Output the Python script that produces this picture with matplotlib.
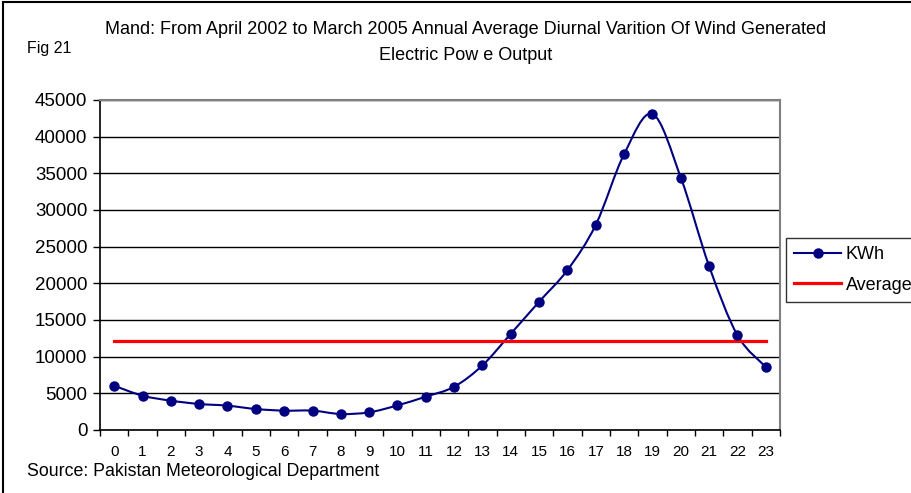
import matplotlib
matplotlib.use('Agg')
import matplotlib.pyplot as plt
import numpy as np
from matplotlib.path import Path
from matplotlib.patches import PathPatch, Rectangle
from matplotlib.lines import Line2D

plt.rcParams['font.family'] = ['Liberation Sans', 'DejaVu Sans']

hours = list(range(24))
kwh = [6040, 4680, 4000, 3550, 3320, 2860, 2640, 2640, 2180, 2410, 3360, 4550,
       5900, 8820, 13130, 17500, 21820, 28000, 37640, 43090, 34410, 22320, 12910, 8590]
average = [12200] * 24

navy = '#000080'

def smooth_path(xs, ys):
    # excel-like smoothed line : bezier segments through the points
    n = len(xs)
    verts = [(xs[0], ys[0])]
    codes = [Path.MOVETO]
    for i in range(n - 1):
        x0, y0 = xs[max(i - 1, 0)], ys[max(i - 1, 0)]
        x1, y1 = xs[i], ys[i]
        x2, y2 = xs[i + 1], ys[i + 1]
        x3, y3 = xs[min(i + 2, n - 1)], ys[min(i + 2, n - 1)]
        c1 = (x1 + (x2 - x0) / 6, y1 + (y2 - y0) / 6)
        c2 = (x2 - (x3 - x1) / 6, y2 - (y3 - y1) / 6)
        verts += [c1, c2, (x2, y2)]
        codes += [Path.CURVE4] * 3
    return Path(verts, codes)

fig = plt.figure(figsize=(9.12, 4.93), dpi=100)
ax = fig.add_axes([100/912, 63/493, 680/912, 330/493])

ax.add_patch(PathPatch(smooth_path(hours, kwh), facecolor='none', edgecolor=navy, lw=1.5, zorder=3))
ax.plot(hours, kwh, 'o', color=navy, markersize=6.5, linestyle='none', zorder=4)
ax.plot(hours, average, '-', color='#ff0000', lw=2.3, zorder=3)

ax.set_xlim(-0.5, 23.5)
ax.set_ylim(0, 45000)
ax.set_yticks(range(0, 45001, 5000))
ax.set_xticks(hours)
ax.set_xticks(np.arange(-0.5, 24, 1), minor=True)
ax.tick_params(axis='x', which='major', length=0, labelsize=11, pad=11)
ax.tick_params(axis='x', which='minor', length=4, width=1, color='black')
ax.tick_params(axis='y', length=5, width=1, labelsize=13.5, pad=4)
ax.grid(axis='y', color='black', lw=1)
ax.set_axisbelow(True)
for s in ['top', 'right']:
    ax.spines[s].set_color('#808080')
    ax.spines[s].set_linewidth(1.5)
for s in ['left', 'bottom']:
    ax.spines[s].set_color('black')
    ax.spines[s].set_linewidth(1.2)

handles = [Line2D([], [], color=navy, marker='o', markersize=6.5, lw=1.5),
           Line2D([], [], color='#ff0000', lw=2.3)]
leg = fig.legend(handles, ['KWh', 'Average'], loc='upper left',
                 bbox_to_anchor=(786/912, 1 - 238/493), fontsize=13,
                 frameon=True, fancybox=False, borderpad=0.45, handlelength=2.6,
                 handletextpad=0.25, labelspacing=0.75, borderaxespad=0)
leg.get_frame().set_edgecolor('black')
leg.get_frame().set_linewidth(1)

fig.text(466/912, 1 - 30/493, "Mand: From April 2002 to March 2005 Annual Average Diurnal Varition Of Wind Generated",
         ha='center', va='center', fontsize=13)
fig.text(466/912, 1 - 55/493, "Electric Pow e Output", ha='center', va='center', fontsize=13)
fig.text(27/912, 1 - 48/493, "Fig 21", ha='left', va='center', fontsize=11.5)
fig.text(27/912, 1 - 472/493, "Source: Pakistan Meteorological Department", ha='left', va='center', fontsize=12.8)

fig.patches.append(Rectangle((3/912, -0.1), 1.2, 1.1 - 1.5/493, transform=fig.transFigure,
                             fill=False, edgecolor='black', lw=1.5))

plt.savefig('out.png', dpi=100)
